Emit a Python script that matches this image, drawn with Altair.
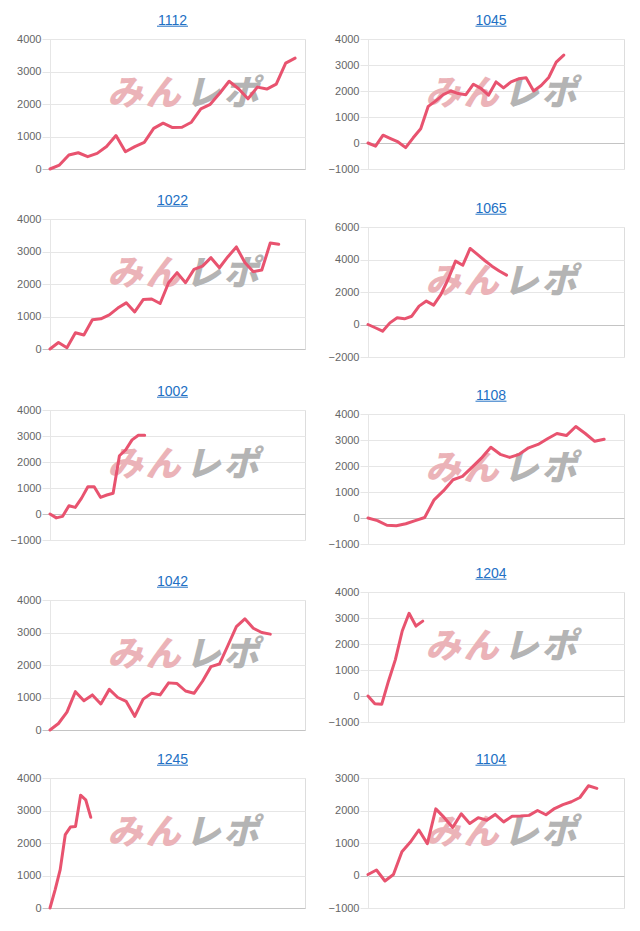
import altair as alt
import pandas as pd

# ---- data ----
LEFT_CODES = ["1112", "1022", "1002", "1042", "1245"]
RIGHT_CODES = ["1045", "1065", "1108", "1204", "1104"]

S1112 = [0, 120, 430, 500, 380, 480, 690, 1030, 530, 690, 820, 1250, 1410, 1275,
         1285, 1440, 1850, 1990, 2330, 2700, 2470, 2160, 2520, 2460, 2610, 3260, 3410]
S1022 = [0, 200, 40, 500, 430, 900, 930, 1050, 1260, 1420, 1140, 1520, 1540, 1400,
         2040, 2350, 2040, 2450, 2550, 2810, 2500, 2840, 3140, 2660, 2380, 2430, 3260, 3220]
S1002 = [0, -150, -90, 320, 255, 610, 1050, 1050, 640, 730, 800, 2240, 2470, 2850, 3030, 3030]
S1042 = [0, 200, 550, 1180, 900, 1080, 800, 1250, 1000, 880, 420, 950, 1130, 1080,
         1450, 1430, 1200, 1130, 1500, 1950, 2030, 2600, 3180, 3420, 3130, 3000, 2950]
S1245 = [0, 560, 1180, 2260, 2490, 2510, 3470, 3330, 2790]
S1045 = [0, -120, 300, 170, 40, -180, 200, 550, 1410, 1620, 1860, 2000, 1900, 1860,
         2260, 2100, 1840, 2350, 2120, 2350, 2470, 2510, 2000, 2210, 2520, 3110, 3380]
S1065 = [0, -200, -410, 100, 410, 350, 510, 1130, 1440, 1190, 1850, 2800, 3900, 3650,
         4680, 4310, 3940, 3590, 3290, 3040]
S1108 = [0, -100, -280, -300, -220, -100, 20, 700, 1050, 1470, 1600, 1950, 2300, 2720,
         2450, 2330, 2450, 2700, 2830, 3050, 3250, 3170, 3520, 3250, 2950, 3030]
S1204 = [0, -300, -320, 580, 1400, 2500, 3180, 2690, 2880]
S1104 = [30, 170, -170, 30, 730, 1030, 1400, 980, 2050, 1780, 1480, 1900, 1600, 1780,
         1700, 1880, 1650, 1820, 1830, 1850, 2000, 1870, 2060, 2180, 2270, 2400, 2760, 2680]

SERIES = {"1112": S1112, "1022": S1022, "1002": S1002, "1042": S1042, "1245": S1245,
          "1045": S1045, "1065": S1065, "1108": S1108, "1204": S1204, "1104": S1104}

# y axis ranges (min, max, step)
Y_RANGE = {"1112": (0, 4000, 1000), "1022": (0, 4000, 1000), "1002": (-1000, 4000, 1000),
           "1042": (0, 4000, 1000), "1245": (0, 4000, 1000), "1045": (-1000, 4000, 1000),
           "1065": (-2000, 6000, 2000), "1108": (-1000, 4000, 1000),
           "1204": (-1000, 4000, 1000), "1104": (-1000, 3000, 1000)}
# x extent (number of day slots on the axis)
X_SPAN = {"1112": 27.05, "1022": 30.1, "1002": 40.4, "1042": 30.1, "1245": 50,
          "1045": 34, "1065": 35.1, "1108": 27.1, "1204": 37.4, "1104": 30.2}

LOGO_CHARS = ["み", "ん", "レ", "ポ"]

# ---- styles ----
LINE_COLOR = "#e8536f"
TITLE_COLOR = "#2270c4"
PINK = "#ebb3b8"
GRAY = "#b4b4b4"
GRID = "#e6e6e6"
ZERO = "#c4c4c4"
H = 130
PANEL_W = {"1112": 255, "1022": 255, "1002": 255, "1042": 255, "1245": 255,
           "1045": 256, "1065": 256, "1108": 256, "1204": 256, "1104": 256}
LEFT_GAPS = [23, 34, 33, 21, 0]
RIGHT_GAPS = [31, 30, 21, 29, 0]
LOGO_X = [75, 113, 153, 191]
LOGO_COL = [PINK, PINK, GRAY, GRAY]


def panel(code, gap):
    vals = SERIES[code]
    W = PANEL_W[code]
    ymin, ymax, ystep = Y_RANGE[code]
    df = pd.DataFrame({"day": list(range(len(vals))), "diff": vals})
    ticks = list(range(ymin, ymax + 1, ystep))
    cond = lambda: {"condition": {"test": "datum.value === 0", "value": ZERO}, "value": GRID}
    line = alt.Chart(df).mark_line(
        color=LINE_COLOR, strokeWidth=3, strokeJoin="round", strokeCap="round"
    ).encode(
        x=alt.X("day:Q", scale=alt.Scale(domain=[0, X_SPAN[code]], nice=False, zero=False), axis=None),
        y=alt.Y("diff:Q", scale=alt.Scale(domain=[ymin, ymax], nice=False, zero=False),
                axis=alt.Axis(values=ticks, title=None, format="d", labelFont="Liberation Sans",
                              labelFontSize=11, labelColor="#666666", labelPadding=1,
                              tickSize=8, tickColor=cond(), gridColor=cond(),
                              domainColor=GRID, labelOverlap=False)),
    )
    logos = []
    for ch, xo, col in zip(LOGO_CHARS, LOGO_X, LOGO_COL):
        logos.append(
            alt.Chart(pd.DataFrame({"c": [ch]})).mark_text(
                text=ch, font="Noto Sans CJK JP", fontSize=35, fontWeight=900,
                fontStyle="italic", color=col, align="center", baseline="middle"
            ).encode(x=alt.value(xo), y=alt.value(55))
        )
    tdf = pd.DataFrame({"t": [code]})
    tx = W / 2 - 5
    title = alt.Chart(tdf).mark_text(
        font="Liberation Sans", fontSize=14, color=TITLE_COLOR, align="center", baseline="alphabetic"
    ).encode(text="t:N", x=alt.value(tx), y=alt.value(-14.5))
    underline = alt.Chart(tdf).mark_rule(color=TITLE_COLOR, strokeWidth=1).encode(
        x=alt.value(tx - 15.5), x2=alt.value(tx + 15.5), y=alt.value(-12.8))
    layers = logos + [line, title, underline]
    if gap > 0:
        spacer = alt.Chart(pd.DataFrame({"s": [0]})).mark_rule(color="white", strokeWidth=1).encode(
            x=alt.value(W), y=alt.value(H + 2), y2=alt.value(H + gap))
        layers.append(spacer)
    return alt.layer(*layers).properties(width=W, height=H)


left = alt.concat(*[panel(c, g) for c, g in zip(LEFT_CODES, LEFT_GAPS)],
                  columns=1, spacing=0, align="none")
right = alt.concat(*[panel(c, g) for c, g in zip(RIGHT_CODES, RIGHT_GAPS)],
                   columns=1, spacing=0, align="none")

chart = alt.hconcat(left, right, spacing=21).properties(
    padding={"left": 1, "top": 5, "right": 0, "bottom": 0}
).configure_view(strokeWidth=0).configure(background="white")

chart.save("out.html", embed_options={"renderer": "svg", "actions": False})
